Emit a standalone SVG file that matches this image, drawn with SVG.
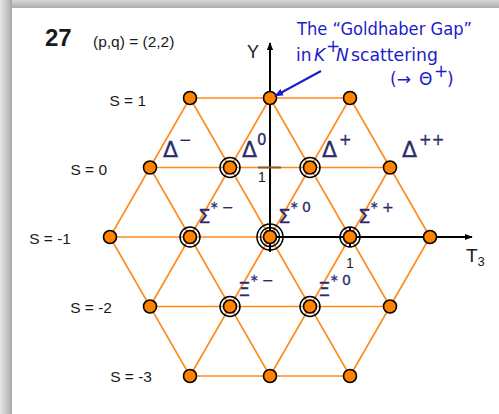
<svg xmlns="http://www.w3.org/2000/svg" width="499" height="414" viewBox="0 0 499 414">
<defs>
<linearGradient id="gl" x1="0" y1="0" x2="1" y2="0"><stop offset="0" stop-color="#e6e6e6"/><stop offset="0.75" stop-color="#bcbcbc"/><stop offset="1" stop-color="#a4a4a4"/></linearGradient>
<linearGradient id="gt" x1="0" y1="0" x2="0" y2="1"><stop offset="0" stop-color="#d8d8d8"/><stop offset="1" stop-color="#acacac"/></linearGradient>
<marker id="ab" viewBox="0 0 10 10" refX="9" refY="5" markerWidth="8" markerHeight="8" orient="auto" markerUnits="userSpaceOnUse"><path d="M0,1 L10,5 L0,9 z" fill="#000"/></marker>
<marker id="abl" viewBox="0 0 10 10" refX="9" refY="5" markerWidth="9" markerHeight="9" orient="auto" markerUnits="userSpaceOnUse"><path d="M0,1 L10,5 L0,9 z" fill="#1c1cc8"/></marker>
</defs>
<style>
.ln{stroke:#ff8a1c;stroke-width:1.6;fill:none}
.nd{fill:#ff8200;stroke:#000;stroke-width:1.6}
.rg{fill:none;stroke:#000;stroke-width:1.5}
.ax{stroke:#000;stroke-width:2;fill:none}
.t{font-family:"Liberation Sans","DejaVu Sans",sans-serif;fill:#1a1a1a}
.g{font-family:"DejaVu Sans","Liberation Sans",sans-serif;fill:#2c2c6c;stroke:#2c2c6c;stroke-width:0.3}
.b{font-family:"DejaVu Sans","Liberation Sans",sans-serif;fill:#1c1cc8;font-size:17px}
</style>
<rect x="0" y="0" width="499" height="414" fill="#fff"/>
<rect x="0" y="0" width="499" height="8" fill="url(#gt)"/>
<rect x="0" y="0" width="12" height="414" fill="url(#gl)"/>

<g id="title">
<text class="t" x="45" y="46" font-size="24" font-weight="bold">27</text>
<text class="t" x="93" y="47" font-size="15.5">(p,q) = (2,2)</text>
</g>

<g id="s-labels" class="t" font-size="15.5">
<text x="146" y="106" text-anchor="end">S = 1</text>
<text x="107" y="175" text-anchor="end">S = 0</text>
<text x="71" y="244" text-anchor="end">S = -1</text>
<text x="112" y="313" text-anchor="end">S = -2</text>
<text x="152" y="382" text-anchor="end">S = -3</text>
</g>

<g id="connectors">
<line class="ln" x1="190" y1="98" x2="350" y2="98"/>
<line class="ln" x1="150" y1="167.5" x2="390" y2="167.5"/>
<line class="ln" x1="110" y1="237" x2="430" y2="237"/>
<line class="ln" x1="150" y1="306.5" x2="390" y2="306.5"/>
<line class="ln" x1="190" y1="376" x2="350" y2="376"/>
<line class="ln" x1="110" y1="237" x2="190" y2="98"/>
<line class="ln" x1="150" y1="306.5" x2="270" y2="98"/>
<line class="ln" x1="190" y1="376" x2="350" y2="98"/>
<line class="ln" x1="270" y1="376" x2="390" y2="167.5"/>
<line class="ln" x1="350" y1="376" x2="430" y2="237"/>
<line class="ln" x1="350" y1="98" x2="430" y2="237"/>
<line class="ln" x1="270" y1="98" x2="390" y2="306.5"/>
<line class="ln" x1="190" y1="98" x2="350" y2="376"/>
<line class="ln" x1="150" y1="167.5" x2="270" y2="376"/>
<line class="ln" x1="110" y1="237" x2="190" y2="376"/>
</g>

<g id="axes">
<line class="ax" x1="270" y1="252" x2="270" y2="43" marker-end="url(#ab)"/>
<line class="ax" x1="270" y1="237" x2="472" y2="237" marker-end="url(#ab)"/>
<line x1="258" y1="167.5" x2="281" y2="167.5" stroke="#8a5a2a" stroke-width="2"/>
<line x1="350" y1="227" x2="350" y2="247" stroke="#000" stroke-width="2"/>
<text class="t" x="247" y="58" font-size="18">Y</text>
<text class="t" x="466" y="262" font-size="19">T<tspan font-size="13" dy="4">3</tspan></text>
<text class="t" x="262" y="182" font-size="14" text-anchor="middle">1</text>
<text class="t" x="350" y="268" font-size="14" text-anchor="middle">1</text>
</g>

<g id="n-s1"><circle class="nd" cx="190" cy="98" r="6.5"/><circle class="nd" cx="270" cy="98" r="6.5"/><circle class="nd" cx="350" cy="98" r="6.5"/></g>
<g id="n-s0">
<circle class="nd" cx="150" cy="167.5" r="6.5"/>
<circle class="rg" cx="230" cy="167.5" r="10"/><circle class="nd" cx="230" cy="167.5" r="6.5"/>
<circle class="rg" cx="310" cy="167.5" r="10"/><circle class="nd" cx="310" cy="167.5" r="6.5"/>
<circle class="nd" cx="390" cy="167.5" r="6.5"/>
</g>
<g id="n-sm1">
<circle class="nd" cx="110" cy="237" r="6.5"/>
<circle class="rg" cx="190" cy="237" r="10"/><circle class="nd" cx="190" cy="237" r="6.5"/>
<circle class="rg" cx="270" cy="237" r="9.5"/><circle class="rg" cx="270" cy="237" r="13"/><circle class="nd" cx="270" cy="237" r="6.5"/>
<circle class="rg" cx="350" cy="237" r="10"/><circle class="nd" cx="350" cy="237" r="6.5"/>
<circle class="nd" cx="430" cy="237" r="6.5"/>
</g>
<g id="n-sm2">
<circle class="nd" cx="150" cy="306.5" r="6.5"/>
<circle class="rg" cx="230" cy="306.5" r="10"/><circle class="nd" cx="230" cy="306.5" r="6.5"/>
<circle class="rg" cx="310" cy="306.5" r="10"/><circle class="nd" cx="310" cy="306.5" r="6.5"/>
<circle class="nd" cx="390" cy="306.5" r="6.5"/>
</g>
<g id="n-sm3"><circle class="nd" cx="190" cy="376" r="6.5"/><circle class="nd" cx="270" cy="376" r="6.5"/><circle class="nd" cx="350" cy="376" r="6.5"/></g>

<g id="labels" class="g">
<text x="163" y="157" font-size="22">Δ<tspan font-size="15" dy="-12" dx="1">−</tspan></text>
<text x="242" y="157" font-size="22">Δ<tspan font-size="15" dy="-12">0</tspan></text>
<text x="322" y="157" font-size="22">Δ<tspan font-size="15" dy="-12" dx="2">+</tspan></text>
<text x="402" y="157" font-size="22">Δ<tspan font-size="15" dy="-12" dx="2">++</tspan></text>
<text x="198" y="223" font-size="20">Σ<tspan font-size="14" dy="-11">* −</tspan></text>
<text x="278" y="223" font-size="20">Σ<tspan font-size="14" dy="-11">* 0</tspan></text>
<text x="358" y="223" font-size="20">Σ<tspan font-size="14" dy="-11">* +</tspan></text>
<text x="238" y="296" font-size="20">Ξ<tspan font-size="14" dy="-11">* −</tspan></text>
<text x="318" y="296" font-size="20">Ξ<tspan font-size="14" dy="-11">* 0</tspan></text>
</g>

<g id="annotation">
<text class="b" x="297" y="35" textLength="175" lengthAdjust="spacingAndGlyphs">The “Goldhaber Gap”</text>
<text class="b" x="296" y="61">in</text>
<text class="b" x="314" y="61" font-style="italic">K</text>
<text class="b" x="326" y="52" font-size="11">+</text>
<text class="b" x="336" y="61" font-style="italic">N</text>
<text class="b" x="351" y="61" textLength="87" lengthAdjust="spacingAndGlyphs">scattering</text>
<text class="b" x="390" y="85">(→</text>
<text class="b" x="419" y="85">Θ</text>
<text class="b" x="434" y="77" font-size="11">+</text>
<text class="b" x="447" y="85">)</text>
<line x1="321" y1="71" x2="275" y2="96" stroke="#1c1cc8" stroke-width="2" marker-end="url(#abl)"/>
</g>
</svg>
